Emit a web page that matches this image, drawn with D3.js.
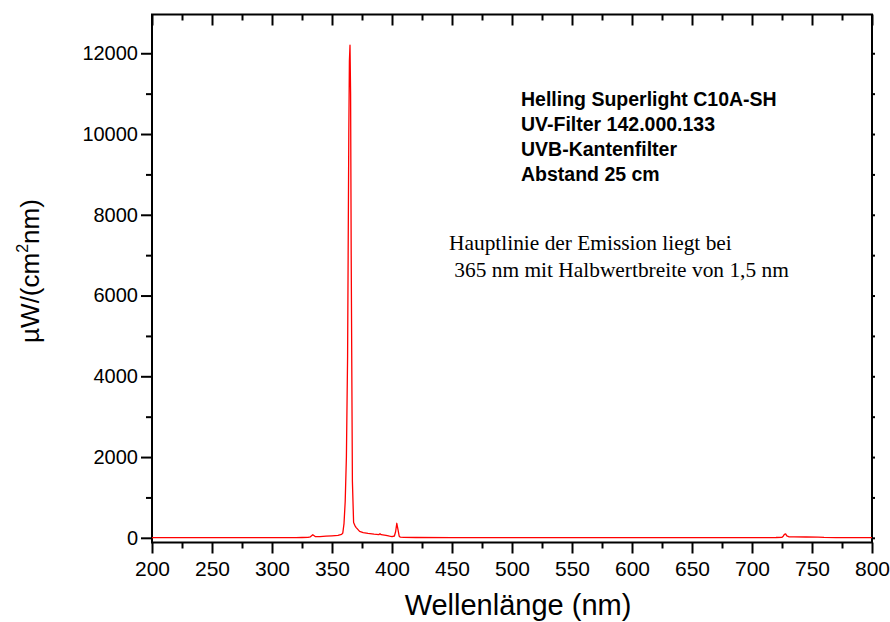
<!DOCTYPE html>
<html><head><meta charset="utf-8">
<script src="https://cdn.jsdelivr.net/npm/d3@7"></script>
<style>html,body{margin:0;padding:0;background:#fff;}svg{display:block;}</style>
</head><body>
<script>
// ---- data ----
const wavelengths = [200,220,240,260,280,300,320,325,330,332,334,336,338,340,345,350,355,358,359,360,361,362,363,364,364.5,365,365.5,366,367,368,369,370,373,376,380,385,389,390,391,395,398,400,402,403,404,405,406,407,410,420,450,500,550,600,650,700,720,725,726,727,728,729,731,735,745,755,760,770,780,800];
const intensity   = [5,5,4,5,5,6,6,8,10,25,75,30,28,32,40,50,62,85,120,350,900,2000,4500,10000,11800,12200,11000,7000,1400,380,310,260,160,130,110,90,80,100,78,60,40,30,45,150,360,200,40,15,10,8,6,6,5,5,5,6,8,12,40,85,95,50,25,22,20,18,10,6,5,5];
const xTicks = [200,250,300,350,400,450,500,550,600,650,700,750,800];
const xMinor = [225,275,325,375,425,475,525,575,625,675,725,775];
const yTicks = [0,2000,4000,6000,8000,10000,12000];
const yMinor = [1000,3000,5000,7000,9000,11000];
const yRight = [0,1000,2000,3000,4000,5000,6000,7000,8000,9000,10000,11000,12000];
const boldNotes = ["Helling Superlight C10A-SH","UV-Filter 142.000.133","UVB-Kantenfilter","Abstand 25 cm"];
const serifNotes = ["Hauptlinie der Emission liegt bei"," 365 nm mit Halbwertbreite von 1,5 nm"];
const xTitle = "Wellenlänge (nm)";

const W = 890, H = 622;
const L = 152, R = 872, T = 14.5, B = 542.5;
const svg = d3.select("body").append("svg").attr("width", W).attr("height", H)
  .style("font-family", "'Liberation Sans', Arial, sans-serif");
svg.append("rect").attr("width", W).attr("height", H).attr("fill", "#fff");

const x = d3.scaleLinear().domain([200, 800]).range([L, R]);
const y = d3.scaleLinear().domain([-116, 12960]).range([B, T]);

function styleAxis(g, fs) {
  g.selectAll(".domain").remove();
  g.selectAll("line").attr("stroke", "#000").attr("stroke-width", 2);
  g.selectAll("text").attr("fill", "#000").style("font-size", (fs || 20) + "px")
    .style("font-family", "'Liberation Sans', Arial, sans-serif");
}

// bottom axis
const gb = svg.append("g").attr("transform", `translate(0,${B})`);
gb.call(d3.axisBottom(x).tickValues(xTicks).tickSize(11).tickPadding(8).tickFormat(d3.format("d"))).call(g => styleAxis(g, 21));
gb.append("g").call(d3.axisBottom(x).tickValues(xMinor).tickSize(6).tickFormat("")).call(g => styleAxis(g));
// top axis (inward ticks)
const gt = svg.append("g").attr("transform", `translate(0,${T})`);
gt.call(d3.axisBottom(x).tickValues(xTicks).tickSize(11).tickFormat("")).call(g => styleAxis(g));
gt.append("g").call(d3.axisBottom(x).tickValues(xMinor).tickSize(6).tickFormat("")).call(g => styleAxis(g));
// left axis
const gl = svg.append("g").attr("transform", `translate(${L},0)`);
gl.call(d3.axisLeft(y).tickValues(yTicks).tickSize(11).tickPadding(3).tickFormat(d3.format("d"))).call(g => styleAxis(g, 20));
gl.append("g").call(d3.axisLeft(y).tickValues(yMinor).tickSize(6).tickFormat("")).call(g => styleAxis(g));
// right axis (tiny outward ticks)
const gr = svg.append("g").attr("transform", `translate(${R},0)`);
gr.call(d3.axisRight(y).tickValues(yRight).tickSize(3).tickFormat("")).call(g => styleAxis(g));

// frame
svg.append("rect").attr("x", L).attr("y", T).attr("width", R - L).attr("height", B - T)
  .attr("fill", "none").attr("stroke", "#000").attr("stroke-width", 2);

// data line
const pts = wavelengths.map((w, i) => [w, intensity[i]]);
svg.append("path").datum(pts)
  .attr("fill", "none").attr("stroke", "#ff0000").attr("stroke-width", 1.3)
  .attr("stroke-linejoin", "round")
  .attr("d", d3.line().x(d => x(d[0])).y(d => y(d[1])));

// annotations
const gn = svg.append("g").style("font-weight", "bold").style("font-size", "19.5px");
boldNotes.forEach((t, i) => {
  gn.append("text").attr("x", 521).attr("y", 106 + i * 25).text(t);
});
const gs = svg.append("g").style("font-family", "'Liberation Serif', 'Times New Roman', serif").style("font-size", "21.4px");
serifNotes.forEach((t, i) => {
  gs.append("text").attr("x", 449).attr("y", 250 + i * 27).attr("xml:space", "preserve").style("white-space", "pre").text(t);
});

// axis titles
svg.append("text").attr("x", 518).attr("y", 615).attr("text-anchor", "middle")
  .style("font-size", "29px").text(xTitle);
const yt = svg.append("text").attr("transform", "translate(39,271) rotate(-90)")
  .attr("text-anchor", "middle").style("font-size", "26px");
yt.append("tspan").text("µW/(cm");
yt.append("tspan").attr("dy", -11).style("font-size", "16px").text("2");
yt.append("tspan").attr("dy", 11).text("nm)");
</script>
</body></html>
